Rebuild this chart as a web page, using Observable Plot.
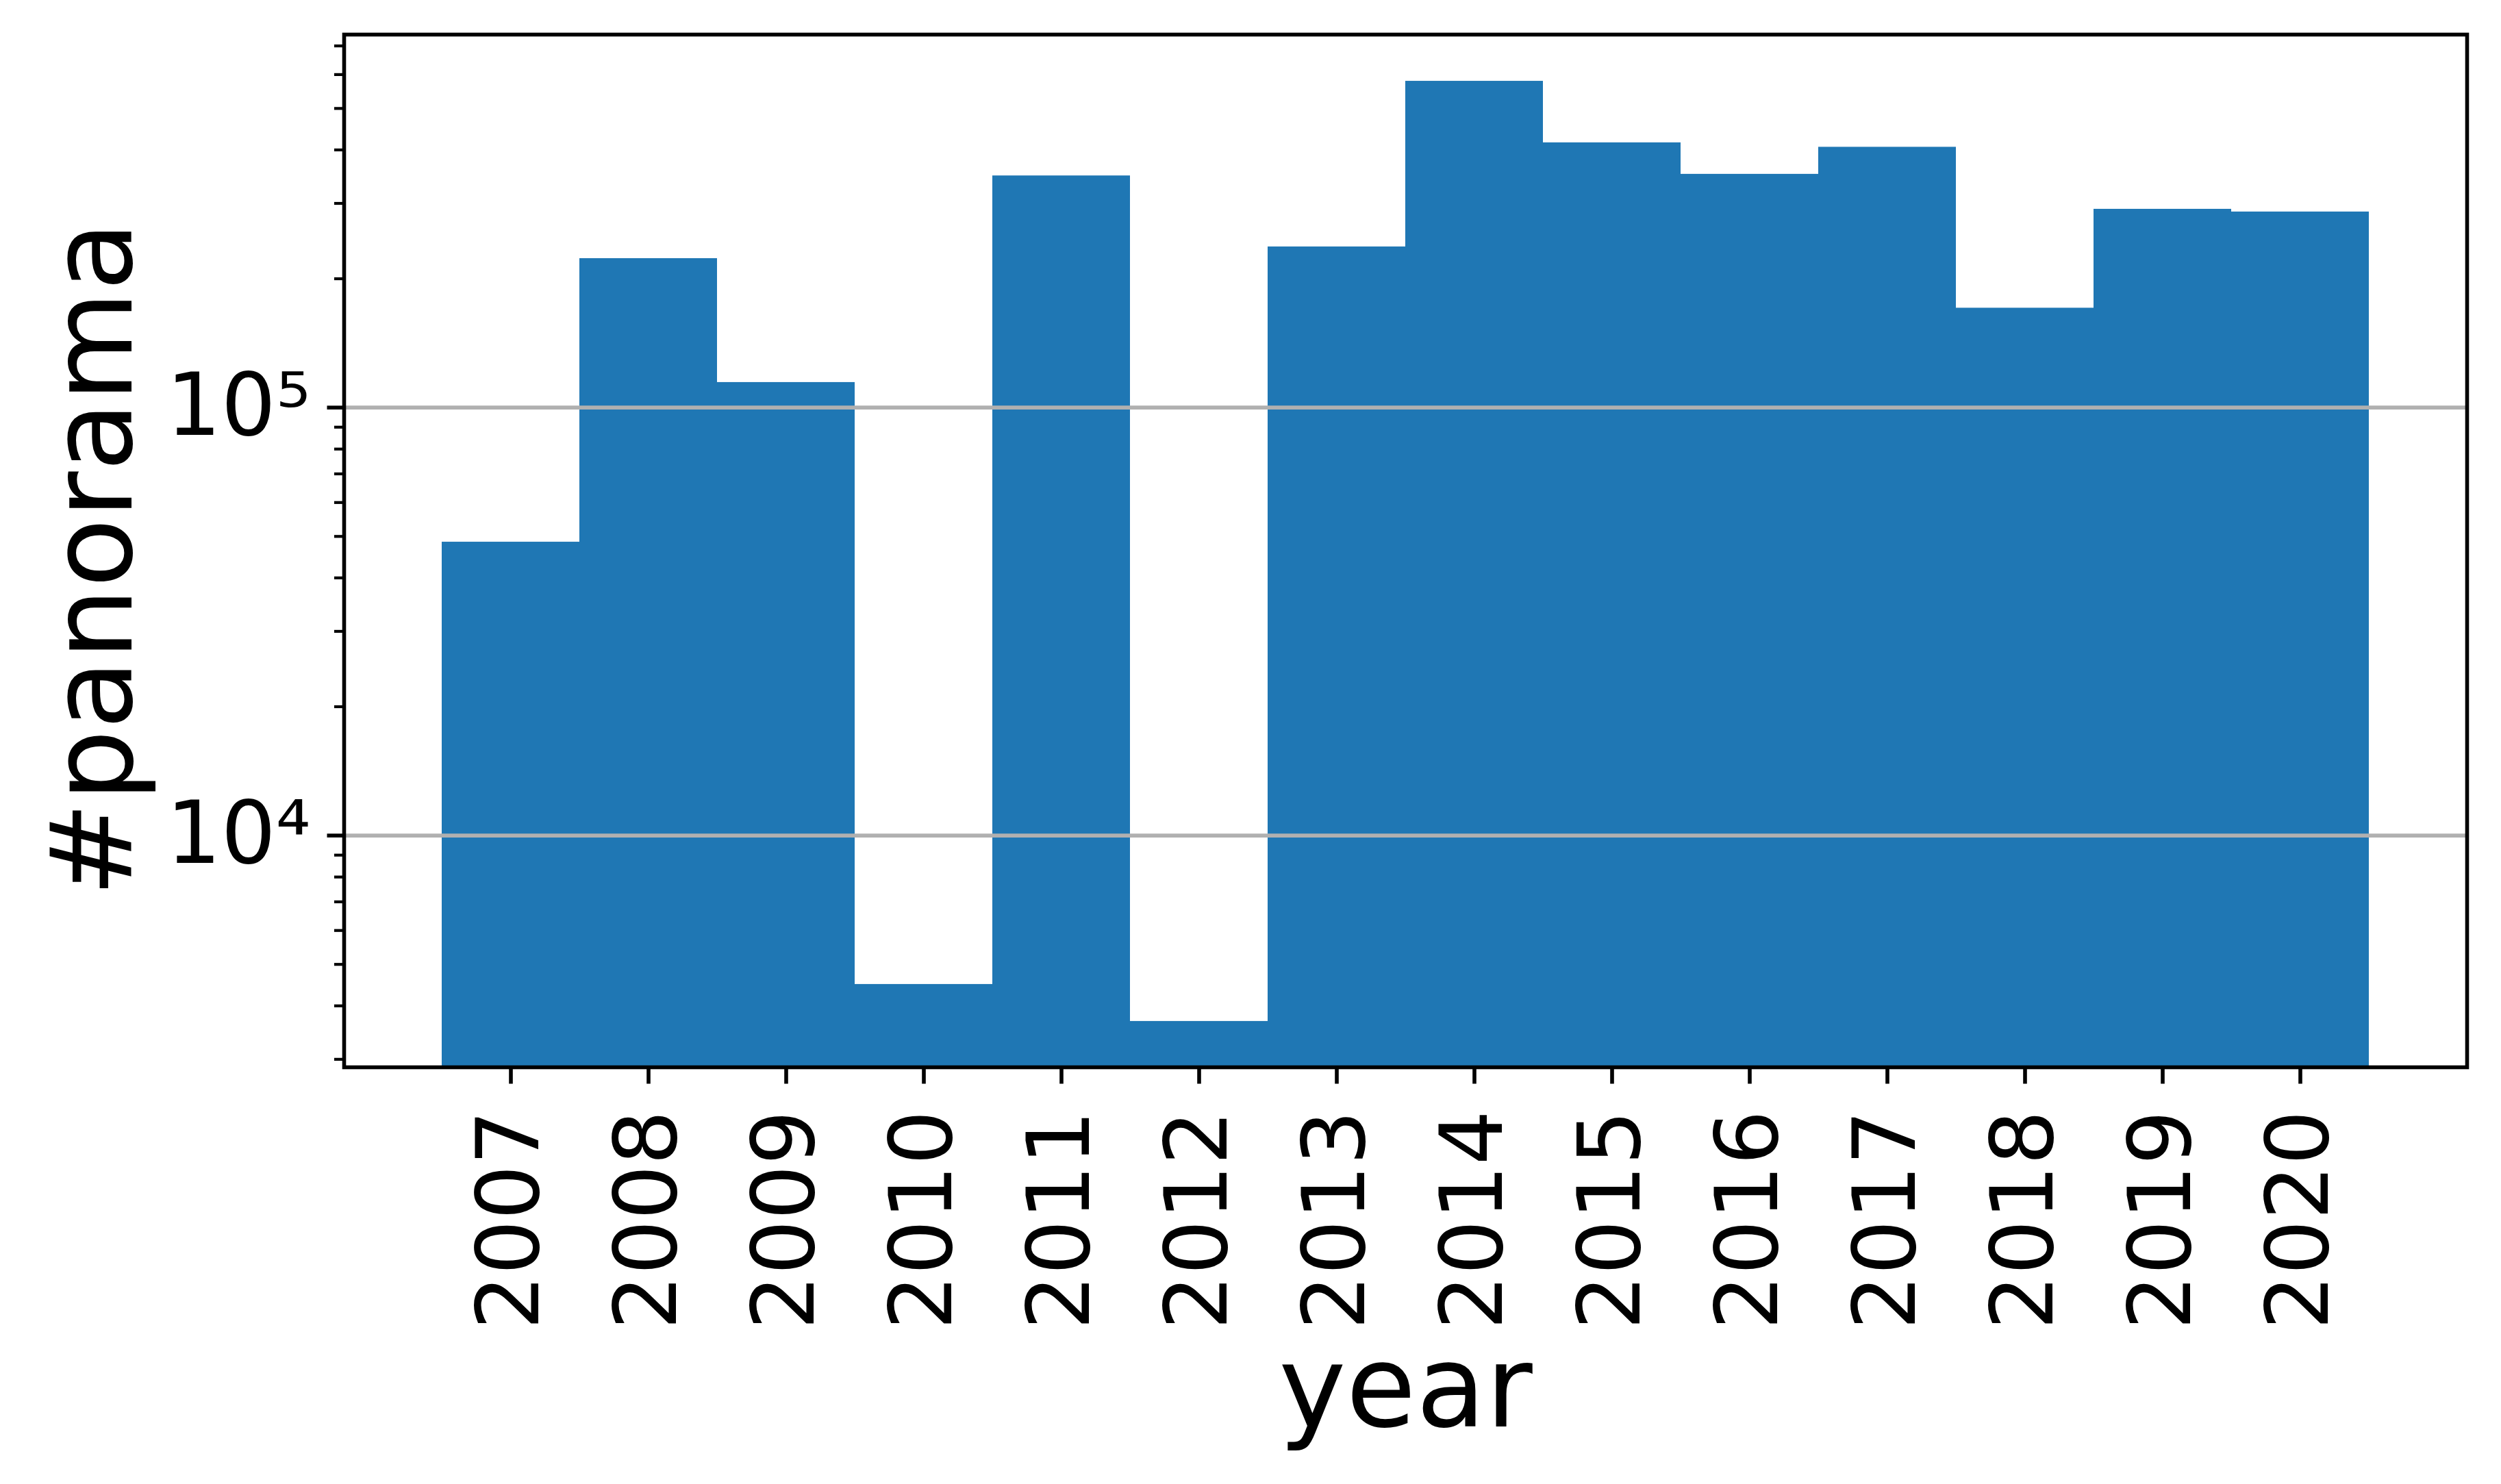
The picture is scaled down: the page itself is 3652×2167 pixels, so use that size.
<!DOCTYPE html>
<html>
<head>
<meta charset="utf-8">
<script src="https://cdn.jsdelivr.net/npm/d3@7"></script>
<script src="https://cdn.jsdelivr.net/npm/@observablehq/plot@0.6"></script>
<style>
  html, body { margin: 0; padding: 0; background: #fff; overflow: hidden; }
</style>
</head>
<body>
<div id="chart"></div>
<script>
// ---- data ----
const years = [2007, 2008, 2009, 2010, 2011, 2012, 2013, 2014, 2015, 2016, 2017, 2018, 2019, 2020];
const counts = [48500, 223000, 114500, 4490, 348000, 3680, 237500, 579000, 415800, 351000, 406000, 170800, 290800, 286600];
const yDomain = [2874, 744000];
const majorTicks = [10000, 100000];
const majorTickLabels = ["10⁴", "10⁵"];
const minorTicks = [3000, 4000, 5000, 6000, 7000, 8000, 9000,
                    20000, 30000, 40000, 50000, 60000, 70000, 80000, 90000,
                    200000, 300000, 400000, 500000, 600000, 700000];
const xLabel = "year";
const yLabel = "#panorama";

const data = years.map((year, i) => ({year, count: counts[i]}));

const chart = Plot.plot({
  width: 3652,
  height: 2167,
  marginLeft: 502,
  marginRight: 50,
  marginTop: 50,
  marginBottom: 609,
  style: {fontFamily: "'DejaVu Sans', sans-serif", fontSize: "126px", background: "#fff", color: "#000"},
  x: {type: "band", domain: years, paddingInner: 0, paddingOuter: 0.7, label: null, axis: null},
  y: {type: "log", domain: yDomain, label: null, axis: null},
  marks: [
    Plot.barY(data, {x: "year", y1: yDomain[0], y2: "count", fill: "#1f77b4"}),
    Plot.ruleY(majorTicks, {stroke: "#b0b0b0", strokeWidth: 5.6}),
    Plot.axisY(minorTicks, {tickSize: 14, strokeWidth: 4.2, fill: "none", label: null}),
    Plot.axisY(majorTicks, {
      tickSize: 24.5, strokeWidth: 5.6, tickPadding: 24.5, fontSize: 126, label: null,
      tickFormat: d => majorTickLabels[majorTicks.indexOf(d)]
    }),
    Plot.axisX({
      tickSize: 24.5, strokeWidth: 5.6, tickRotate: -90, tickPadding: 38, fontSize: 126,
      textAnchor: "end", lineAnchor: "middle", label: null, tickFormat: d => String(d)
    }),
    Plot.frame({stroke: "#000", strokeWidth: 5.6}),
    Plot.text([yLabel], {frameAnchor: "left", rotate: -90, dx: -311, dy: 12, textAnchor: "middle", lineAnchor: "bottom", fontSize: 166}),
    Plot.text([xLabel], {frameAnchor: "bottom", dy: 524, textAnchor: "middle", lineAnchor: "bottom", fontSize: 166})
  ]
});
document.getElementById("chart").append(chart);
</script>
</body>
</html>
